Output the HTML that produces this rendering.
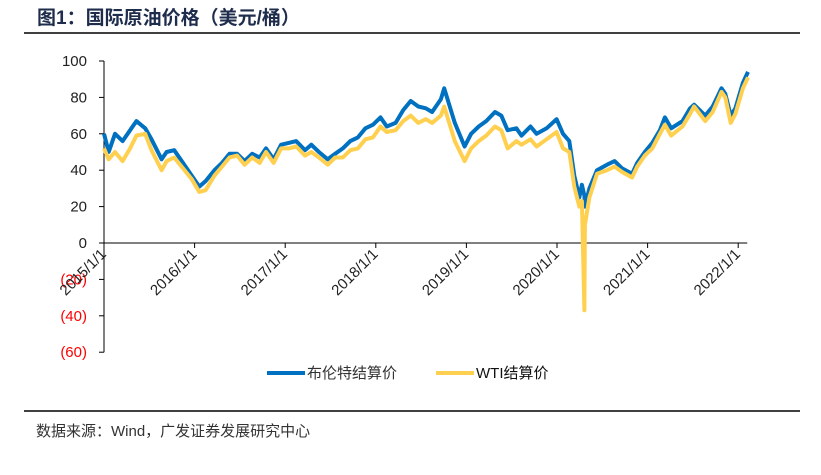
<!DOCTYPE html>
<html><head><meta charset="utf-8"><style>
body{margin:0;background:#fff;width:821px;height:470px;overflow:hidden;font-family:"Liberation Sans","Noto Sans CJK SC",sans-serif}
svg text{font-family:"Liberation Sans","Noto Sans CJK SC",sans-serif}
</style></head><body>
<svg width="821" height="470" xmlns="http://www.w3.org/2000/svg">
<text x="37" y="24" font-size="19" font-weight="bold" fill="#1f2d4d">图1：国际原油价格（美元/桶）</text>
<line x1="24" y1="33" x2="800" y2="33" stroke="#000" stroke-width="1.5"/>
<g id="plot"></g>
<g>
<g><line x1="267" y1="373" x2="305" y2="373" stroke="#0070c0" stroke-width="4"/><text x="307" y="378" font-size="15" fill="#333">布伦特结算价</text></g>
<g><line x1="436" y1="373" x2="474" y2="373" stroke="#ffd050" stroke-width="4"/><text x="476" y="378" font-size="15" fill="#111">WTI结算价</text></g>
</g>
<line x1="24" y1="411" x2="800" y2="411" stroke="#000" stroke-width="1.5"/>
<text x="36" y="436" font-size="15" fill="#333">数据来源：Wind，广发证券发展研究中心</text>
</svg>
<script>
const dates=["2015-01-01","2015-01-20","2015-02-15","2015-03-15","2015-04-15","2015-05-10","2015-06-15","2015-07-10","2015-08-20","2015-09-10","2015-10-10","2015-11-15","2015-12-20","2016-01-20","2016-02-15","2016-03-20","2016-04-20","2016-05-20","2016-06-20","2016-07-20","2016-08-20","2016-09-20","2016-10-15","2016-11-15","2016-12-15","2017-01-15","2017-02-15","2017-03-20","2017-04-15","2017-05-15","2017-06-20","2017-07-20","2017-08-20","2017-09-20","2017-10-20","2017-11-20","2017-12-20","2018-01-20","2018-02-15","2018-03-20","2018-04-20","2018-05-20","2018-06-20","2018-07-20","2018-08-15","2018-09-20","2018-10-03","2018-11-15","2018-12-24","2019-01-20","2019-02-20","2019-03-20","2019-04-25","2019-05-20","2019-06-15","2019-07-20","2019-08-10","2019-09-16","2019-10-10","2019-11-20","2019-12-30","2020-01-25","2020-02-20","2020-03-10","2020-03-30","2020-04-10","2020-04-20","2020-04-22","2020-05-10","2020-06-10","2020-07-20","2020-08-20","2020-09-20","2020-10-30","2020-11-20","2020-12-20","2021-01-20","2021-02-20","2021-03-10","2021-04-05","2021-05-20","2021-06-20","2021-07-06","2021-08-20","2021-09-20","2021-10-25","2021-11-10","2021-12-01","2021-12-20","2022-01-20","2022-02-10"];
const brent=[60,50,60,56,62,67,63,57,46,50,51,44,37,31,34,40,44,49,49,45,49,47,52,46,54,55,56,51,54,50,46,49,52,56,58,63,65,69,64,66,73,78,75,74,72,79,85,66,53,60,64,67,72,70,62,63,59,64,60,63,68,60,56,37,25,32,26,20,30,40,43,45,41,38,44,50,55,62,69,63,67,74,76,70,75,85,82,70,74,88,94];
const wti=[52,46,50,45,52,59,60,51,40,45,47,41,35,28,29,37,42,47,48,43,47,44,50,44,52,52,53,48,50,47,43,47,47,51,52,57,58,64,61,62,67,70,66,68,66,70,75,56,45,52,56,59,64,62,52,56,54,57,53,57,61,52,50,31,20,23,-37,10,25,38,40,42,39,36,42,48,52,60,65,59,64,71,75,67,72,83,80,66,71,85,91];
const yTicks=[100,80,60,40,20,0,-20,-40,-60];
const yTickLabels=["100","80","60","40","20","0","(20)","(40)","(60)"];
const xTickLabels=["2015/1/1","2016/1/1","2017/1/1","2018/1/1","2019/1/1","2020/1/1","2021/1/1","2022/1/1"];
const xTickYears=[2015,2016,2017,2018,2019,2020,2021,2022];

const NS="http://www.w3.org/2000/svg";
const plot=document.getElementById('plot');
const X0=104,PX=90.6,Y0=243,PY=1.82;
function yearFrac(d){const p=d.split('-').map(Number);return p[0]+(p[1]-1)/12+(p[2]-1)/365;}
function xs(t){return X0+(t-2015)*PX;}
function ys(v){return Y0-v*PY;}
function mk(tag,attrs){const e=document.createElementNS(NS,tag);for(const k in attrs)e.setAttribute(k,attrs[k]);plot.appendChild(e);return e;}

const ya=mk('line',{x1:X0,y1:ys(100),x2:X0,y2:ys(-60),stroke:'#000','stroke-width':1});


yTicks.forEach((v,i)=>{
  const t=mk('line',{x1:X0-5,y1:ys(v),x2:X0,y2:ys(v),stroke:'#000','stroke-width':1});
  
  
  const l=mk('text',{x:X0-17,y:ys(v)+5,'font-size':15,'text-anchor':'end',fill:v<0?'#ff0000':'#222'});
  l.textContent=yTickLabels[i];
  
  
});
const xa=mk('line',{x1:X0,y1:Y0,x2:xs(2022.1),y2:Y0,stroke:'#000','stroke-width':1});


xTickYears.forEach((yr,i)=>{
  const x=xs(yr);
  const t=mk('line',{x1:x,y1:Y0,x2:x,y2:Y0+5,stroke:'#000','stroke-width':1});
  
  
  const l=mk('text',{x:x+3,y:Y0+12,'font-size':15,'text-anchor':'end',fill:'#222',transform:`rotate(-45 ${x+3} ${Y0+12})`});
  l.textContent=xTickLabels[i];
  
  
});
function path(vals){return vals.map((v,i)=>(i?'L':'M')+xs(yearFrac(dates[i])).toFixed(1)+','+ys(v).toFixed(1)).join(' ');}
const pb=mk('path',{d:path(brent),fill:'none',stroke:'#0070c0','stroke-width':4,'stroke-linejoin':'round'});


const pw=mk('path',{d:path(wti),fill:'none',stroke:'#ffd050','stroke-width':4,'stroke-linejoin':'round'});


</script>
</body></html>
